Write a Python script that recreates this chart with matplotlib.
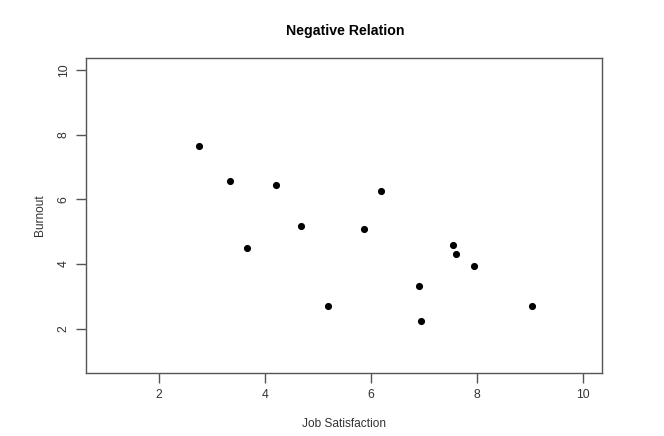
import matplotlib
matplotlib.use("Agg")
import matplotlib.pyplot as plt

job_satisfaction = [2.76, 3.35, 3.66, 4.21, 4.68, 5.20, 5.88, 6.20, 6.90, 6.95, 7.55, 7.61, 7.94, 9.03]
burnout = [7.65, 6.56, 4.51, 6.44, 5.17, 2.71, 5.08, 6.26, 3.33, 2.23, 4.60, 4.32, 3.94, 2.69]
x_ticks = [2, 4, 6, 8, 10]
y_ticks = [2, 4, 6, 8, 10]

plt.rcParams['font.family'] = ['Liberation Sans', 'DejaVu Sans']
fig = plt.figure(figsize=(6.64, 4.36), dpi=100)
ax = fig.add_axes([0.130, 0.145, 0.777, 0.721])
ax.scatter(job_satisfaction, burnout, s=17, color='black', zorder=3)
ax.set_xlim(0.64, 10.36)
ax.set_ylim(0.64, 10.36)
ax.set_xticks(x_ticks)
ax.set_yticks(y_ticks)
ax.set_yticklabels([str(v) for v in y_ticks], rotation=90, va='center')
for s in ax.spines.values():
    s.set_color('#555555')
    s.set_linewidth(1.0)
ax.tick_params(direction='out', length=7, width=1.0, color='#555555',
               labelsize=8.8, labelcolor='#333333', pad=5)
ax.set_xlabel('Job Satisfaction', fontsize=8.6, color='#333333', labelpad=12)
ax.set_ylabel('Burnout', fontsize=8.6, color='#333333', labelpad=8.5)
fig.text(0.52, 0.93, 'Negative Relation', ha='center', va='center',
         fontsize=10.2, fontweight='bold')
fig.savefig('out.png', dpi=100)
